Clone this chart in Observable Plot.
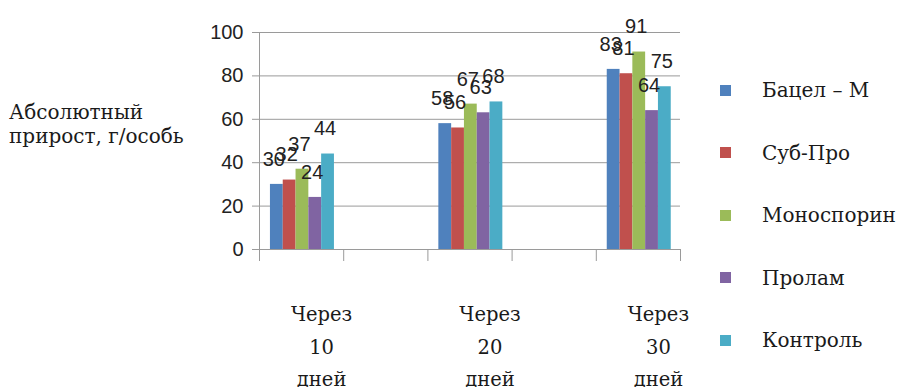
<!DOCTYPE html>
<html>
<head>
<meta charset="utf-8">
<script src="https://cdn.jsdelivr.net/npm/d3@7"></script>
<script src="https://cdn.jsdelivr.net/npm/@observablehq/plot@0.6"></script>
<style>
  body { margin: 0; background: #fff; }
  #wrap { position: relative; width: 899px; height: 387px; overflow: hidden; background: #fff; }
  #chart { position: absolute; left: 0; top: 0; }
  .serif { font-family: "DejaVu Serif", "Liberation Serif", serif; color: #1a1a1a; }
  #ylabel { position: absolute; left: 9px; top: 100px; font-size: 20px; line-height: 24px; white-space: nowrap; }
  .legrow { position: absolute; left: 0; width: 899px; height: 62px; display: flex; align-items: center; }
  .sw { position: absolute; left: 720px; width: 11px; height: 11px; }
  .lt { position: absolute; left: 762px; font-size: 20px; white-space: nowrap; }
</style>
</head>
<body>
<div id="wrap">
  <div id="chart"></div>
  <div id="ylabel" class="serif">Абсолютный<br>прирост, г/особь</div>
  <div id="legend" class="serif"></div>
</div>
<script>
// ---- data ----
const categories = ["Через 10 дней", "Через 20 дней", "Через 30 дней"];
const categorySlots = [0, 2, 4]; // categories sit in slots 1, 3, 5 of five; slots 2 and 4 are empty
const series = ["Бацел – М", "Суб-Про", "Моноспорин", "Пролам", "Контроль"];
const bacelM = [30, 58, 83];
const subPro = [32, 56, 81];
const monosporin = [37, 67, 91];
const prolam = [24, 63, 64];
const kontrol = [44, 68, 75];
const colors = ["#4F81BD", "#C0504D", "#9BBB59", "#8064A2", "#4BACC6"];
const yTicks = [0, 20, 40, 60, 80, 100];

const seriesValues = [bacelM, subPro, monosporin, prolam, kontrol];
const groupOffset = 0.13, groupWidth = 0.76, barW = groupWidth / series.length;
const rows = [];
categories.forEach((c, ci) => {
  series.forEach((s, si) => {
    const x1 = categorySlots[ci] + groupOffset + si * barW;
    rows.push({category: c, series: s, value: seriesValues[si][ci], x1, x2: x1 + barW, xm: x1 + barW / 2});
  });
});

const sans = "'Liberation Sans', Arial, sans-serif";
const serif = "'DejaVu Serif', 'Liberation Serif', serif";

const chart = Plot.plot({
  width: 899,
  height: 387,
  marginLeft: 259,
  marginRight: 219,
  marginTop: 32,
  marginBottom: 138,
  style: {fontFamily: sans, color: "#222", background: "transparent"},
  x: {domain: [0, 5], axis: null},
  y: {domain: [0, 100], axis: null},
  color: {domain: series, range: colors},
  marks: [
    Plot.gridY(yTicks, {stroke: "#9a9a9a", strokeOpacity: 1}),
    Plot.axisY(yTicks, {tickSize: 7, tickPadding: 9, stroke: "#9a9a9a", fontSize: 20, fill: "#222", label: null}),
    Plot.ruleX([0], {stroke: "#9a9a9a"}),
    Plot.ruleY([0], {stroke: "#9a9a9a"}),
    Plot.axisX(d3.range(0, 6), {tickSize: 12, tickFormat: () => "", stroke: "#9a9a9a", label: null}),
    Plot.axisX(categorySlots.map(s => s + 0.5), {
      tickSize: 0, tickPadding: 49, dx: 20, fontSize: 19.5, fontFamily: serif, fill: "#1a1a1a",
      lineHeight: 1.65, label: null,
      tickFormat: (d) => categories[categorySlots.indexOf(d - 0.5)].split(" ").join("\n")
    }),
    Plot.rectY(rows, {x1: "x1", x2: "x2", y: "value", fill: "series"}),
    Plot.text(rows, {x: "xm", y: "value", text: d => String(d.value), dy: -25, dx: -3, fontSize: 20, fill: "#222"})
  ]
});
document.getElementById("chart").appendChild(chart);

// legend
const legend = document.getElementById("legend");
series.forEach((s, i) => {
  const row = document.createElement("div");
  row.className = "legrow";
  row.style.top = (59 + i * 62.5) + "px";
  row.innerHTML = `<span class="sw" style="background:${colors[i]}"></span><span class="lt">${s}</span>`;
  legend.appendChild(row);
});
</script>
</body>
</html>
